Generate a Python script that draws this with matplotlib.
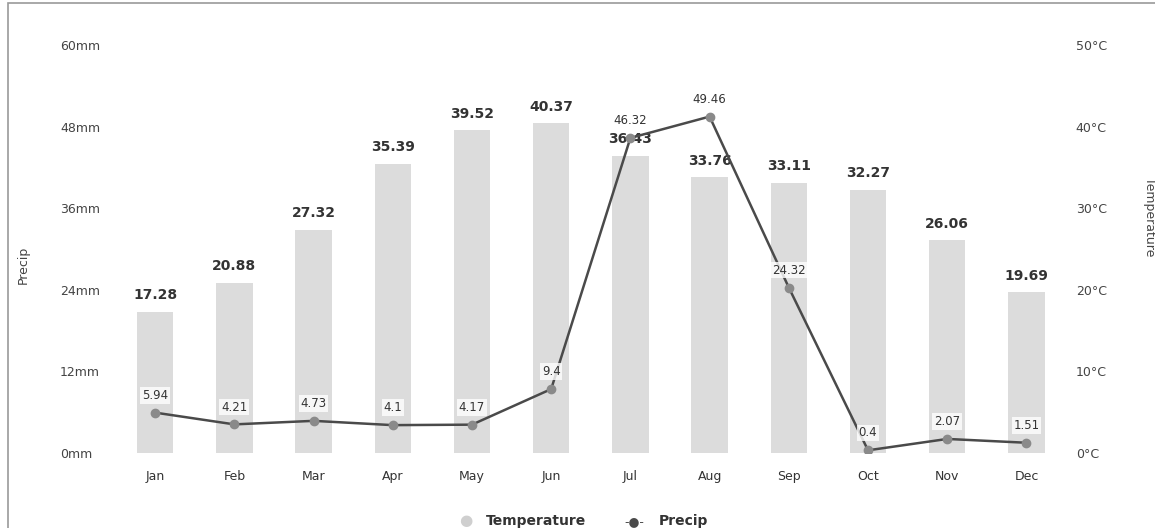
import matplotlib.pyplot as plt
from matplotlib.patches import Rectangle

months = ['Jan', 'Feb', 'Mar', 'Apr', 'May', 'Jun', 'Jul', 'Aug', 'Sep', 'Oct', 'Nov', 'Dec']
temperature = [17.28, 20.88, 27.32, 35.39, 39.52, 40.37, 36.43, 33.76, 33.11, 32.27, 26.06, 19.69]
precip = [5.94, 4.21, 4.73, 4.1, 4.17, 9.4, 46.32, 49.46, 24.32, 0.4, 2.07, 1.51]
precip_ticks = [0, 12, 24, 36, 48, 60]
temp_ticks = [0, 10, 20, 30, 40, 50]

fig = plt.figure(figsize=(11.55, 5.28), dpi=100)
ax = fig.add_axes([0.100, 0.142, 0.823, 0.773])
ax2 = ax.twinx()

x = range(len(months))

# temperature bars on the right axis
ax2.bar(x, temperature, width=0.46, color='#dcdcdc', zorder=1)
for i, t in enumerate(temperature):
    ax2.text(i, t + 1.2, '%.2f' % t, ha='center', va='bottom',
             fontsize=10, fontweight='bold', color='#333333')
ax2.set_ylim(0, 50)
ax2.set_yticks(temp_ticks)
ax2.set_yticklabels(['%d°C' % v for v in temp_ticks], fontsize=9, color='#444444')
ax2.set_ylabel('Temperature', fontsize=9, color='#444444', rotation=270)
ax2.yaxis.set_label_coords(1.095, 0.58)

# precip line on the left axis, drawn above the bars
ax.set_zorder(ax2.get_zorder() + 1)
ax.patch.set_visible(False)
ax.plot(x, precip, color='#4a4a4a', lw=1.8, marker='o', ms=6,
        markerfacecolor='#8a8a8a', markeredgecolor='#8a8a8a')
for i, p in enumerate(precip):
    ax.text(i, p + 1.6, '%g' % p, ha='center', va='bottom', fontsize=8.5,
            color='#333333',
            bbox=dict(boxstyle='square,pad=0.15', fc='white', ec='none', alpha=0.8))
ax.set_ylim(0, 60)
ax.set_yticks(precip_ticks)
ax.set_yticklabels(['%dmm' % v for v in precip_ticks], fontsize=9, color='#444444', ha='left')
ax.set_ylabel('Precip', fontsize=9, color='#444444')
ax.yaxis.set_label_coords(-0.09, 0.46)

ax.set_xlim(-0.5, len(months) - 0.5)
ax.set_xticks(list(x))
ax.set_xticklabels(months, fontsize=9, color='#333333')

for a in (ax, ax2):
    for s in a.spines.values():
        s.set_visible(False)
    a.tick_params(length=0)
ax.tick_params(axis='y', pad=40)
ax2.tick_params(axis='y', pad=7)
ax.tick_params(axis='x', pad=12)

# legend
fig.text(0.403, 0.0, '●', fontsize=11, color='#cfcfcf', va='bottom', ha='center')
fig.text(0.421, 0.0, 'Temperature', fontsize=10, fontweight='bold', color='#333333', va='bottom')
fig.text(0.549, 0.0, '-●-', fontsize=9, color='#4a4a4a', va='bottom', ha='center')
fig.text(0.570, 0.0, 'Precip', fontsize=10, fontweight='bold', color='#333333', va='bottom')

# scan border
fig.patches.append(Rectangle((0.007, -0.01), 1.2, 1.005, transform=fig.transFigure,
                             fill=False, ec='#9a9a9a', lw=1.2))

fig.savefig('out.png', dpi=100)
